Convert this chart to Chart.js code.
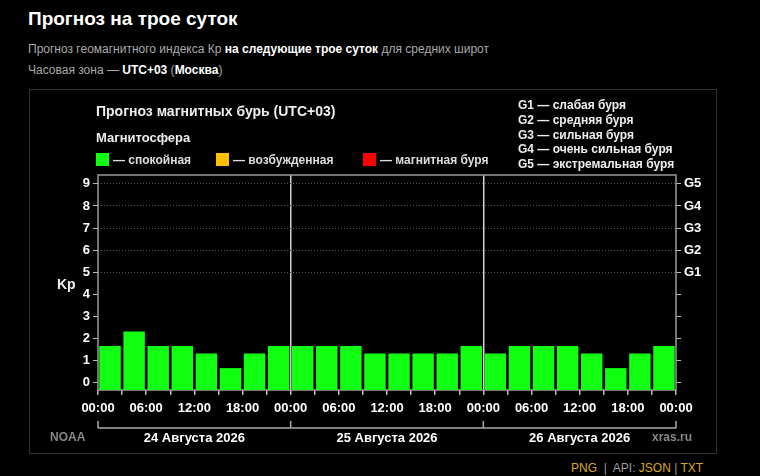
<!DOCTYPE html>
<html>
<head>
<meta charset="utf-8">
<script src="https://cdn.jsdelivr.net/npm/chart.js@4"></script>
<style>
  body { margin: 0; background: #000; width: 760px; height: 476px; overflow: hidden; position: relative;
         font-family: "Liberation Sans", Arial, sans-serif; color: #fff; }
  .abs { position: absolute; white-space: nowrap; }
  h1 { position: absolute; left: 28px; top: 8px; margin: 0; font-size: 19px; font-weight: bold; color: #fff; }
  .sub { font-size: 12px; color: #aaa; }
  .sub b { color: #fff; }
  #box { position: absolute; left: 29px; top: 89px; width: 686px; height: 363px; border: 1px solid #333; }
  #chart { position: absolute; left: 0; top: 0; }
  .lbl { font-size: 14px; font-weight: bold; color: #eee; }
  .leg { font-size: 12px; font-weight: bold; color: #ddd; }
  .sq { display: inline-block; width: 13px; height: 13px; vertical-align: -2px; margin-right: 4px; }
  .glist { font-size: 12px; font-weight: bold; color: #eee; line-height: 14.8px; }
  .src { font-size: 12px; font-weight: bold; color: #888; }
  .foot { font-size: 12px; color: #999; }
  .foot span { color: #d9a81c; }
</style>
</head>
<body>
<h1>Прогноз на трое суток</h1>
<div class="abs sub" style="left:28px;top:42px">Прогноз геомагнитного индекса Кр <b>на следующие трое суток</b> для средних широт</div>
<div class="abs sub" style="left:28px;top:63px">Часовая зона — <b>UTC+03</b> (<b>Москва</b>)</div>

<div id="box">
  <canvas id="chart" width="686" height="363"></canvas>
  <div class="abs lbl" style="left:66px;top:13px">Прогноз магнитных бурь (UTC+03)</div>
  <div class="abs lbl" style="left:66px;top:40px;font-size:13px">Магнитосфера</div>
  <div class="abs leg" style="left:66px;top:63px"><i class="sq" style="background:#11ff11"></i>— спокойная</div>
  <div class="abs leg" style="left:186px;top:63px"><i class="sq" style="background:#ffc000"></i>— возбужденная</div>
  <div class="abs leg" style="left:333px;top:63px"><i class="sq" style="background:#ff0000"></i>— магнитная буря</div>
  <div class="abs glist" style="left:488px;top:8px">G1 — слабая буря<br>G2 — средняя буря<br>G3 — сильная буря<br>G4 — очень сильная буря<br>G5 — экстремальная буря</div>
  <div class="abs lbl" style="left:27px;top:186px;font-size:14px">Kp</div>
  <div class="abs src" style="left:20px;top:340px">NOAA</div>
  <div class="abs src" style="left:622px;top:340px">xras.ru</div>
</div>

<div class="abs foot" style="left:571px;top:461px"><span>PNG</span> &nbsp;|&nbsp; API: <span>JSON</span> | <span>TXT</span></div>

<script>
// Kp forecast, 3-hour slots, 24..26 Aug 2026 (UTC+03)
const days = ['24 Августа 2026', '25 Августа 2026', '26 Августа 2026'];
const slotHours = [0, 3, 6, 9, 12, 15, 18, 21];
const kpValues = [
  1.67, 2.33, 1.67, 1.67, 1.33, 0.67, 1.33, 1.67,
  1.67, 1.67, 1.67, 1.33, 1.33, 1.33, 1.33, 1.67,
  1.33, 1.67, 1.67, 1.67, 1.33, 0.67, 1.33, 1.67
];
const kpTicks = [0, 1, 2, 3, 4, 5, 6, 7, 8, 9];
const gLevels = [5, 6, 7, 8, 9];
const gLabels = ['G1', 'G2', 'G3', 'G4', 'G5'];

const yMin = -0.32;
const yMax = 9.4;
const totalHours = days.length * 24;

function kpColor(v) {
  if (v >= 5) return '#ff0000';
  if (v >= 4) return '#ffc000';
  return '#11ff11';
}

function pad(n) {
  return (n < 10 ? '0' : '') + n;
}

// x positions: middle of each 3-hour slot
const points = kpValues.map((v, i) => ({ x: Math.floor(i / 8) * 24 + slotHours[i % 8] + 1.5, y: v }));

const xTicks = [];
for (let h = 0; h <= totalHours; h += 3) xTicks.push(h);

const tickFont = { family: '"Liberation Sans", Arial, sans-serif', size: 13, weight: 'bold' };

// frame around plot + date bracket under the axis
const decor = {
  id: 'decor',
  beforeDatasetsDraw(chart) {
    const a = chart.chartArea;
    const ctx = chart.ctx;
    ctx.save();
    ctx.strokeStyle = '#9a9a9a';
    ctx.lineWidth = 1.5;
    ctx.strokeRect(a.left, a.top, a.right - a.left, a.bottom - a.top);
    ctx.restore();
  },
  afterDraw(chart) {
    const ctx = chart.ctx;
    const x = chart.scales.x;
    const yLine = 338;
    ctx.save();
    ctx.strokeStyle = '#aaa';
    ctx.lineWidth = 1.5;
    ctx.beginPath();
    ctx.moveTo(x.getPixelForValue(0), yLine);
    ctx.lineTo(x.getPixelForValue(totalHours), yLine);
    for (let d = 0; d <= days.length; d++) {
      const px = x.getPixelForValue(d * 24);
      ctx.moveTo(px, yLine);
      ctx.lineTo(px, yLine - 7);
    }
    ctx.stroke();
    ctx.fillStyle = '#fff';
    ctx.font = 'bold 13px "Liberation Sans", Arial, sans-serif';
    ctx.textAlign = 'center';
    ctx.textBaseline = 'middle';
    days.forEach((d, i) => {
      ctx.fillText(d, x.getPixelForValue(i * 24 + 12), 348);
    });
    ctx.restore();
  }
};

new Chart(document.getElementById('chart'), {
  type: 'bar',
  data: {
    datasets: [{
      data: points,
      base: yMin,
      backgroundColor: c => kpColor(c.raw ? c.raw.y : 0),
      borderWidth: 0,
      barPercentage: 0.89,
      categoryPercentage: 1
    }]
  },
  options: {
    responsive: false,
    animation: false,
    layout: { padding: { top: 85 } },
    plugins: { legend: { display: false }, tooltip: { enabled: false } },
    scales: {
      x: {
        type: 'linear',
        offset: false,
        min: 0,
        max: totalHours,
        afterBuildTicks: s => { s.ticks = xTicks.map(v => ({ value: v })); },
        afterFit: s => { s.height = 63; },
        ticks: {
          autoSkip: false,
          maxRotation: 0,
          padding: 6,
          color: '#fff',
          font: tickFont,
          callback: v => (v % 6 === 0 ? pad(v % 24) + ':00' : '')
        },
        grid: {
          offset: false,
          color: c => (c.tick && c.tick.value % 24 === 0 && c.tick.value > 0 && c.tick.value < totalHours) ? '#d0d0d0' : 'rgba(0,0,0,0)',
          lineWidth: 1.5,
          tickColor: '#bbb',
          tickLength: 5
        },
        border: { display: false }
      },
      y: {
        position: 'left',
        min: yMin,
        max: yMax,
        afterBuildTicks: s => { s.ticks = kpTicks.map(v => ({ value: v })); },
        afterFit: s => { s.width = 68; },
        ticks: { color: '#fff', font: tickFont, padding: 3 },
        grid: {
          color: c => (c.tick && c.tick.value >= 5) ? '#555' : 'rgba(0,0,0,0)',
          lineWidth: 1,
          tickColor: '#bbb',
          tickLength: 5
        },
        border: { display: false, dash: [1, 2] }
      },
      g: {
        position: 'right',
        min: yMin,
        max: yMax,
        afterBuildTicks: s => { s.ticks = kpTicks.map(v => ({ value: v })); },
        afterFit: s => { s.width = 40; },
        ticks: {
          color: '#fff',
          font: tickFont,
          padding: 3,
          callback: v => {
            const i = gLevels.indexOf(v);
            return i >= 0 ? gLabels[i] : '';
          }
        },
        grid: { drawOnChartArea: false, tickColor: '#bbb', tickLength: 5 },
        border: { display: false }
      }
    }
  },
  plugins: [decor]
});
</script>
</body>
</html>
